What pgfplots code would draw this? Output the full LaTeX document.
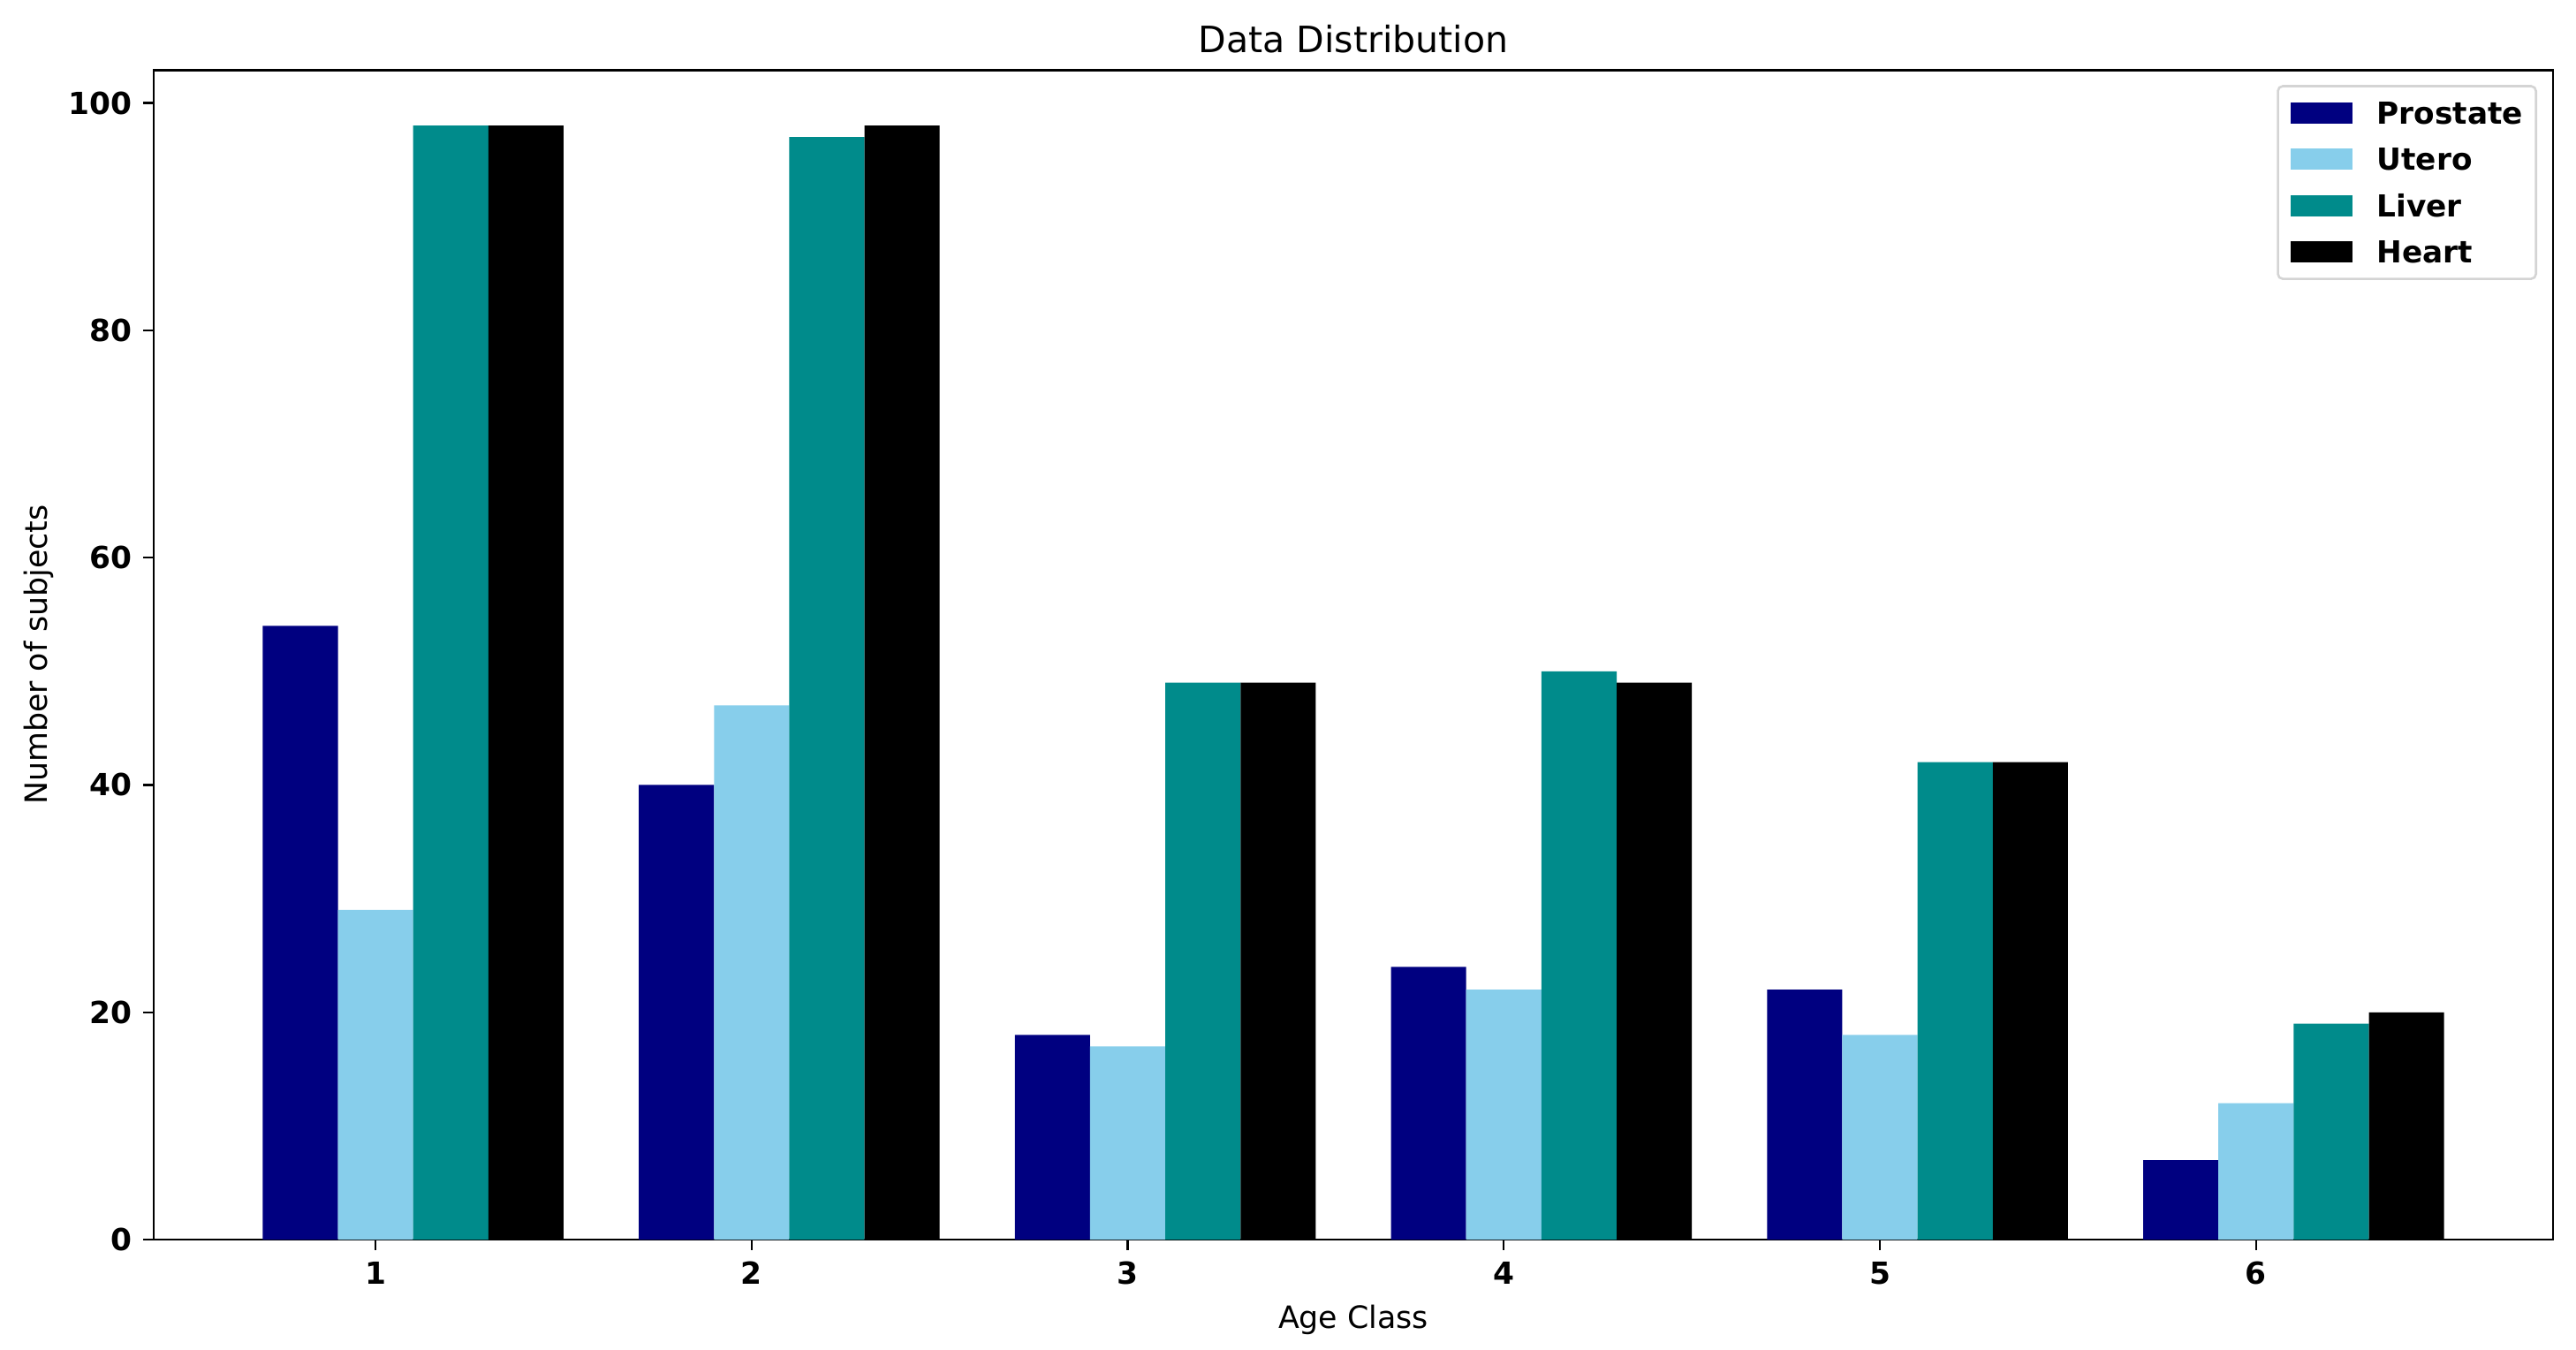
\documentclass[border=0pt]{standalone}
\usepackage{fontspec}
\setmainfont{DejaVu Sans}
\usepackage{pgfplots}
\pgfplotsset{compat=1.18}

\definecolor{navyc}{RGB}{0,0,128}
\definecolor{skyc}{RGB}{135,206,235}
\definecolor{tealc}{RGB}{0,139,139}

\begin{document}
\begin{tikzpicture}
\begin{axis}[
    scale only axis,
    width=734.1pt, height=357.8pt,
    xmin=0.41, xmax=6.79,
    ymin=0, ymax=102.9,
    xtick={1,2,3,4,5,6},
    ytick={0,20,40,60,80,100},
    tick align=outside,
    xtick pos=bottom, ytick pos=left,
    major tick length=3.2pt,
    tick style={black, line width=0.6pt},
    axis line style={line width=0.72pt},
    /pgf/number format/assume math mode=true,
    ticklabel style={font=\fontsize{9.3}{11}\selectfont\bfseries},
    title={Data Distribution},
    every axis title/.style={font=\fontsize{11.1}{13}\selectfont,
        at={(axis description cs:0.5,1)}, anchor=base, yshift=5.3pt},
    xlabel={Age Class},
    every axis x label/.style={font=\fontsize{9.4}{11}\selectfont,
        at={(axis description cs:0.5,-0.0755)}, anchor=base},
    ylabel={Number of subjects},
    every axis y label/.style={font=\fontsize{9.4}{11}\selectfont,
        at={(axis description cs:-0.0444,0.5)}, rotate=90, anchor=base},
    legend style={at={(1,1)}, anchor=north east, xshift=-4.9pt, yshift=-4.6pt,
        draw=black!17, rounded corners=1.5pt, line width=0.7pt,
        font=\fontsize{9.27}{11}\selectfont\bfseries,
        row sep=7.44pt, column sep=7.4pt,
        inner xsep=4pt, inner ysep=4.8pt,
        nodes={inner sep=0pt, text height=6.76pt, text depth=0pt}},
    legend cell align=left,
    ybar, bar width=0.2,
    every axis plot/.append style={draw=none,
        legend image code/.code={\fill[##1, sharp corners] (0pt,-3.25pt) rectangle (18.9pt,3.25pt);}},
]
\addplot[fill=navyc, bar shift=-0.2] coordinates {(1,54) (2,40) (3,18) (4,24) (5,22) (6,7)};
\addplot[fill=skyc, bar shift=0] coordinates {(1,29) (2,47) (3,17) (4,22) (5,18) (6,12)};
\addplot[fill=tealc, bar shift=0.2] coordinates {(1,98) (2,97) (3,49) (4,50) (5,42) (6,19)};
\addplot[fill=black, bar shift=0.4] coordinates {(1,98) (2,98) (3,49) (4,49) (5,42) (6,20)};
\legend{Prostate, Utero, Liver, Heart}
\end{axis}
\path ([xshift=-47pt,yshift=-33.5pt]current axis.south west) rectangle ([xshift=7pt,yshift=21.4pt]current axis.north east);
\end{tikzpicture}
\end{document}
